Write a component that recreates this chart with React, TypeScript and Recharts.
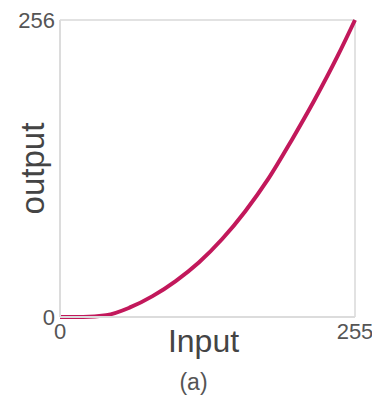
import React from "react";
import { LineChart, Line, XAxis, YAxis, CartesianGrid, Label } from "recharts";

const inputValues = [0, 20, 40, 60, 80, 100, 120, 140, 160, 180, 200, 220, 240, 255];
const outputValues = [0, 0, 1.5, 8, 18, 31, 47, 67, 91, 119, 152, 187, 225, 256];
const xTicks = [0, 255];
const yTicks = [0, 256];

const data = inputValues.map((x, i) => ({ input: x, output: outputValues[i] }));

const FONT = "'Liberation Sans', Arial, sans-serif";

export default function App() {
  return (
    <div style={{ position: "absolute", left: 0, top: 0, width: 372, height: 403, background: "#fff" }}>
      <LineChart
        width={372}
        height={403}
        data={data}
        margin={{ top: 20, right: 17, bottom: 0, left: 0 }}
        style={{ fontFamily: FONT }}
      >
        <CartesianGrid stroke="#e2e2e2" strokeWidth={2} />
        <XAxis
          dataKey="input"
          type="number"
          domain={[0, 255]}
          ticks={xTicks}
          height={86}
          tickSize={0}
          tickMargin={6}
          axisLine={{ stroke: "#dcdcdc", strokeWidth: 2 }}
          tick={{ fontSize: 22, fill: "#555", fontFamily: FONT }}
        >
          <Label value="Input" position="insideTop" offset={12} fontSize={32} fill="#444" fontFamily={FONT} dx={-4} />
          <Label value="(a)" position="insideTop" offset={57} fontSize={23} fill="#555" fontFamily={FONT} dx={-14} />
        </XAxis>
        <YAxis
          type="number"
          domain={[0, 256]}
          ticks={yTicks}
          width={60}
          tickSize={0}
          tickMargin={5}
          axisLine={{ stroke: "#dcdcdc", strokeWidth: 2 }}
          tick={{ fontSize: 22, fill: "#555", fontFamily: FONT }}
        >
          <Label value="output" position="center" angle={-90} fontSize={33} fill="#444" fontFamily={FONT} dx={2} />
        </YAxis>
        <Line
          type="monotone"
          dataKey="output"
          stroke="#c2185b"
          strokeWidth={4}
          dot={false}
          isAnimationActive={false}
        />
      </LineChart>
    </div>
  );
}
